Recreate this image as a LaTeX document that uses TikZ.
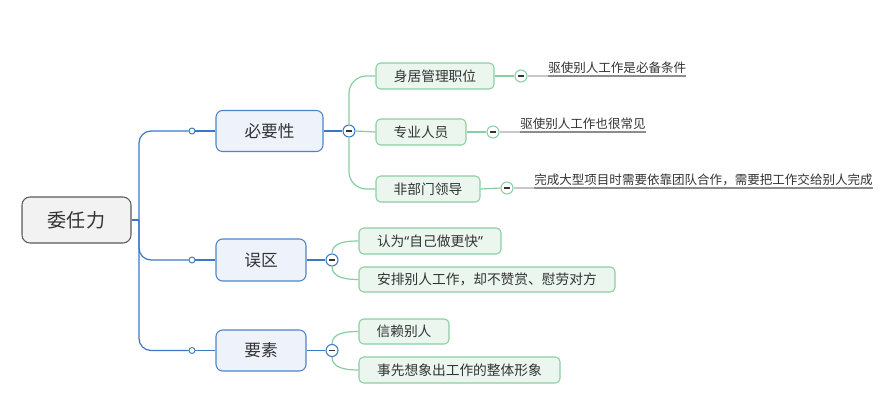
\documentclass[tikz,border=0pt]{standalone}
\usepackage{fontspec}
\setmainfont{Noto Sans CJK SC}
\newfontfamily\latinq{Noto Sans}
\usetikzlibrary{calc}
\definecolor{blueline}{HTML}{3D76C2}
\definecolor{bluefill}{HTML}{EEF3FB}
\definecolor{blueborder}{HTML}{4F83C7}
\definecolor{greenline}{HTML}{86CFA0}
\definecolor{greenfill}{HTML}{EBF6EF}
\definecolor{greenborder}{HTML}{8ACFA2}
\definecolor{rootfill}{HTML}{F2F2F2}
\definecolor{rootborder}{HTML}{595959}
\definecolor{txt}{HTML}{333333}
\definecolor{noteline}{HTML}{8C8C8C}
\definecolor{notelight}{HTML}{C8C8C8}
\tikzset{
  rootbox/.style={draw=rootborder, fill=rootfill, line width=0.8pt, rounded corners=6pt, text=txt, font=\fontsize{14.3pt}{16pt}\selectfont, inner sep=0pt},
  lvlone/.style={draw=blueborder, fill=bluefill, line width=0.8pt, rounded corners=5pt, text=txt, font=\fontsize{12.5pt}{14pt}\selectfont, inner sep=0pt},
  lvltwo/.style={draw=greenborder, fill=greenfill, line width=0.8pt, rounded corners=3.5pt, text=txt, font=\fontsize{10.3pt}{12pt}\selectfont, inner sep=0pt},
  notetext/.style={text=txt, font=\fontsize{9.4pt}{11pt}\selectfont, inner xsep=0pt, inner ysep=1.5pt, anchor=south west},
  bluewire/.style={draw=blueline, line width=0.9pt},
  greenwire/.style={draw=greenline, line width=0.9pt},
  dotc/.style={circle, draw=blueline, fill=white, line width=0.7pt, minimum size=4.5pt, inner sep=0pt},
  foldc/.style={circle, draw=#1, fill=white, line width=0.8pt, minimum size=9pt, inner sep=0pt,
    path picture={\draw[line width=0.8pt, txt] ($(path picture bounding box.center)+(-2.6,0)$) -- ($(path picture bounding box.center)+(2.6,0)$);}},
}
\begin{document}
\begin{tikzpicture}[x=0.75pt, y=-0.75pt]
\useasboundingbox (0,0) rectangle (891,410);
% root
\node[rootbox, minimum width=0.75pt*109, minimum height=0.75pt*46] (root) at (76.5,220) {委任力};
% level 1
\node[lvlone, minimum width=0.75pt*107, minimum height=0.75pt*41] (n1) at (269.5,131) {必要性};
\node[lvlone, minimum width=0.75pt*90, minimum height=0.75pt*42] (n2) at (261,260) {误区};
\node[lvlone, minimum width=0.75pt*90, minimum height=0.75pt*41] (n3) at (261,350.5) {要素};
% small dots
\node[dotc] (d1) at (192,131) {};
\node[dotc] (d2) at (192,260) {};
\node[dotc] (d3) at (192,350.5) {};
\coordinate (trunk) at (139,220);
\draw[bluewire] (root.east) -- (trunk);
\draw[bluewire, rounded corners=9pt] (trunk) |- (d1.west);
\draw[bluewire, rounded corners=9pt] (trunk) |- (d2.west);
\draw[bluewire, rounded corners=9pt] (trunk) |- (d3.west);
\draw[bluewire] (d1) -- (n1);
\draw[bluewire] (d2) -- (n2);
\draw[bluewire] (d3) -- (n3);
% fold circles level 1
\node[foldc=blueline] (e1) at (349,131) {};
\node[foldc=blueline] (e2) at (332,260) {};
\node[foldc=blueline] (e3) at (332,350.5) {};
\draw[bluewire] (n1.east) -- (e1.west);
\draw[bluewire] (n2.east) -- (e2.west);
\draw[bluewire] (n3.east) -- (e3.west);
% level 2
\node[lvltwo, minimum width=0.75pt*118, minimum height=0.75pt*26] (a1) at (435,76) {身居管理职位};
\node[lvltwo, minimum width=0.75pt*90, minimum height=0.75pt*26] (a2) at (421,132) {专业人员};
\node[lvltwo, minimum width=0.75pt*104, minimum height=0.75pt*26] (a3) at (428,189) {非部门领导};
\node[lvltwo, minimum width=0.75pt*142, minimum height=0.75pt*26] (b1) at (430,241) {认为{\latinq “}自己做更快{\latinq ”}};
\node[lvltwo, minimum width=0.75pt*256, minimum height=0.75pt*25] (b2) at (487,279.5) {安排别人工作，却不赞赏、慰劳对方};
\node[lvltwo, minimum width=0.75pt*90, minimum height=0.75pt*25] (c1) at (404,331.5) {信赖别人};
\node[lvltwo, minimum width=0.75pt*201, minimum height=0.75pt*26] (c2) at (459.5,370) {事先想象出工作的整体形象};
% green connectors
\draw[greenwire, rounded corners=13pt] (e1.north) |- (a1.west);
\draw[greenwire] (e1.east) -- (a2.west);
\draw[greenwire, rounded corners=13pt] (e1.south) |- (a3.west);
\draw[greenwire] (e2.north) to[out=90, in=180] (b1.west);
\draw[greenwire] (e2.south) to[out=-90, in=180] (b2.west);
\draw[greenwire] (e3.north) to[out=90, in=180] (c1.west);
\draw[greenwire] (e3.south) to[out=-90, in=180] (c2.west);
% fold circles level 2
\node[foldc=greenline] (f1) at (521,76) {};
\node[foldc=greenline] (f2) at (493,132) {};
\node[foldc=greenline] (f3) at (507,188) {};
\draw[greenwire] (a1.east) -- (f1.west);
\draw[greenwire] (a2.east) -- (f2.west);
\draw[greenwire] (a3.east) -- (f3.west);
% notes
\node[notetext] (g1) at (548,76) {驱使别人工作是必备条件};
\node[notetext] (g2) at (520,132) {驱使别人工作也很常见};
\node[notetext] (g3) at (534,188) {完成大型项目时需要依靠团队合作，需要把工作交给别人完成};
\draw[draw=notelight, line width=0.9pt] (f1.east) -- (g1.south west);
\draw[draw=notelight, line width=0.9pt] (f2.east) -- (g2.south west);
\draw[draw=notelight, line width=0.9pt] (f3.east) -- (g3.south west);
\draw[draw=noteline, line width=0.8pt] (g1.south west) -- (g1.south east);
\draw[draw=noteline, line width=0.8pt] (g2.south west) -- (g2.south east);
\draw[draw=noteline, line width=0.8pt] (g3.south west) -- (g3.south east);
\end{tikzpicture}
\end{document}
